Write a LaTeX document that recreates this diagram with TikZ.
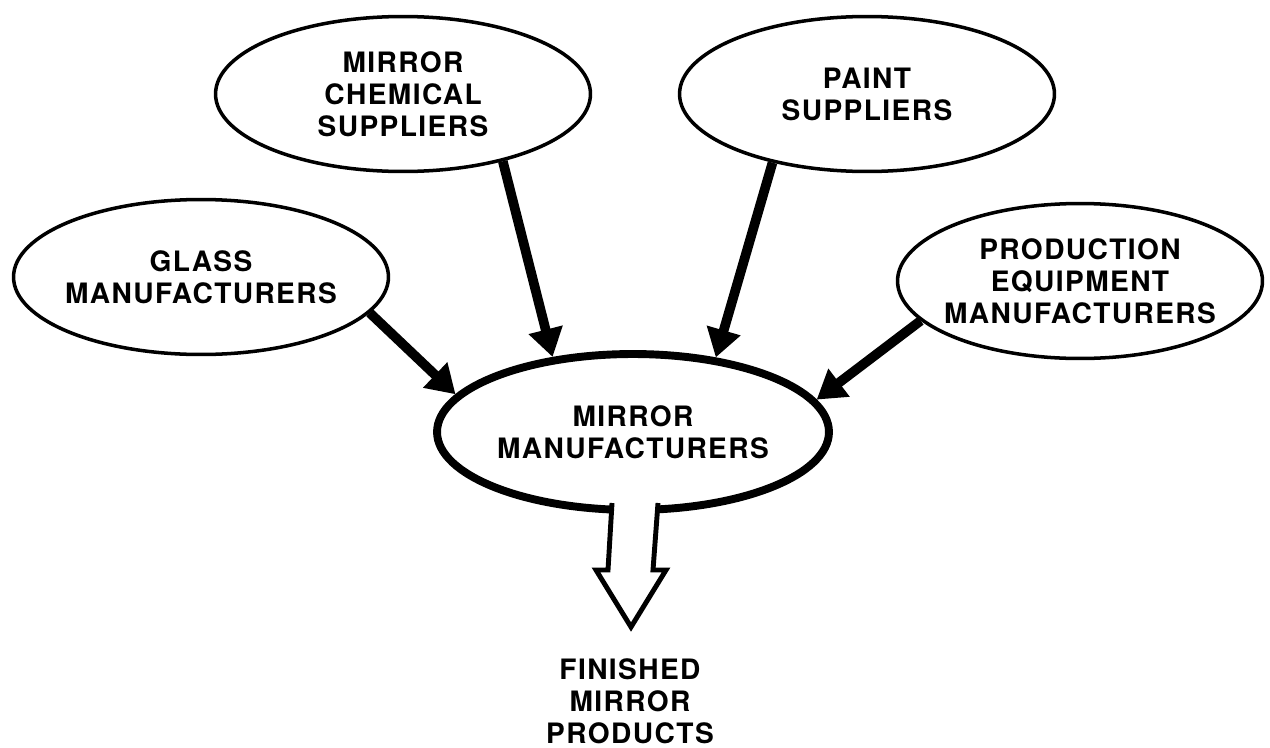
\documentclass[tikz,border=0pt]{standalone}
\usepackage{fontspec}
\setmainfont[LetterSpace=5]{TeX Gyre Heros}
\usepackage{tikz}
\usetikzlibrary{arrows.meta,shapes.geometric}
\tikzset{font=\fontsize{16}{18.2}\selectfont\bfseries}
\tikzstyle{supp}=[ellipse,draw,line width=2pt,inner xsep=-0.5cm,inner ysep=0pt,minimum width=7.5cm,minimum height=3.1cm,align=center]
\tikzstyle{maker}=[ellipse,draw,line width=4.5pt,inner xsep=-0.3cm,inner ysep=0pt,minimum width=7.84cm,minimum height=3.12cm,align=center]
\tikzstyle{feed}=[line width=5.5pt,-{Triangle[length=16pt,width=19pt]}]

\begin{document}
\begin{tikzpicture}[x=0.02cm,y=-0.02cm]
\useasboundingbox (0,0) rectangle (1270,747);
\node[supp] (G) at (201,277) {GLASS\\MANUFACTURERS};
\node[supp] (C) at (403,94) {MIRROR\\CHEMICAL\\SUPPLIERS};
\node[supp] (P) at (867,94) {PAINT\\SUPPLIERS};
\node[supp,minimum width=7.3cm] (E) at (1080,281) {PRODUCTION\\EQUIPMENT\\MANUFACTURERS};
\node[maker] (M) at (633,432) {MIRROR\\MANUFACTURERS};
\node[align=center] (F) at (630,701) {FINISHED\\MIRROR\\PRODUCTS};
% open arrow out of the bottom of M
\draw[line width=2.8pt,fill=white] (612,503) -- (608,570) -- (596,570) -- (631,627)
  -- (666,570) -- (653,570) -- (658,503);
\path[feed]
(G.-12) edge (M.168)
(C.-34) edge (M.137)
(P.216) edge (M.42)
(E.194) edge (M.10);
\end{tikzpicture}
\end{document}
